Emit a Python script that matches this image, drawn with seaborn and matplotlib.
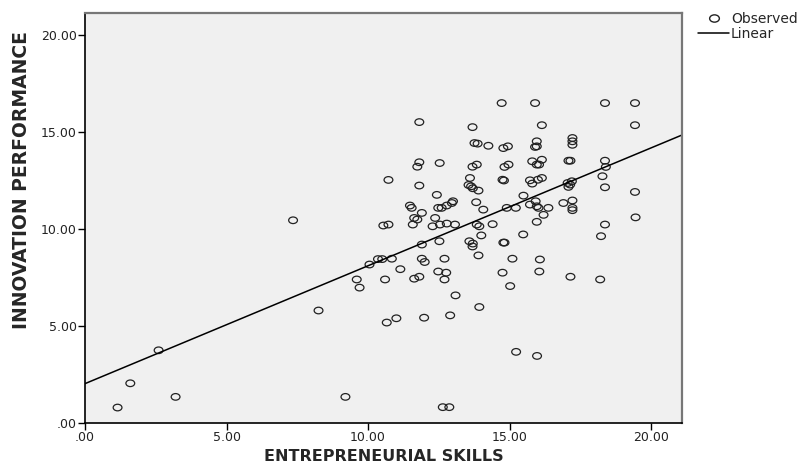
import matplotlib
matplotlib.use('Agg')
import matplotlib.pyplot as plt
import seaborn as sns
import pandas as pd
from matplotlib.ticker import FuncFormatter
from matplotlib.lines import Line2D
from matplotlib.path import Path
from matplotlib.transforms import Affine2D

# values
skills = [
    1.15, 1.6, 2.6, 3.2, 7.35, 8.25, 9.2, 9.6, 9.7, 10.05,
    10.35, 10.5, 10.84, 10.6, 11.14, 11.9, 11.9, 12.0, 11.63, 11.81,
    12.52, 12.7, 12.48, 12.76, 12.7, 13.09, 13.58, 13.7, 13.69, 14.0,
    13.9, 13.93, 10.66, 11.0, 11.98, 12.9, 14.78, 14.82, 14.75, 15.48,
    18.23, 15.1, 16.07, 16.05, 17.15, 18.2, 15.02, 15.23, 15.97, 12.64,
    12.87, 19.45, 18.37, 15.96, 16.2, 14.72, 11.81, 13.69, 13.76, 13.87,
    14.25, 14.78, 14.94, 11.81, 11.74, 12.53, 13.69, 13.84, 14.82, 14.96,
    10.72, 11.81, 13.6, 13.55, 13.64, 13.7, 13.9, 14.75, 14.8, 12.43,
    11.48, 11.54, 11.9, 11.63, 11.74, 12.48, 12.6, 12.78, 12.96, 13.0,
    13.82, 14.07, 12.37, 10.54, 10.72, 11.58, 12.28, 12.54, 12.78, 13.07,
    13.84, 13.93, 14.4, 14.9, 15.22, 15.9, 18.37, 19.43, 16.14, 19.43,
    15.96, 15.96, 15.9, 17.22, 17.22, 17.22, 15.8, 16.14, 15.96, 16.04,
    17.08, 17.15, 18.37, 18.4, 18.28, 18.37, 19.43, 15.72, 15.8, 16.0,
    16.14, 17.05, 17.14, 17.2, 17.08, 15.49, 15.72, 15.92, 15.96, 16.02,
    16.37, 16.9, 17.22, 17.22, 17.22,
]
innovation = [
    0.8, 2.05, 3.75, 1.35, 10.45, 5.8, 1.35, 7.4, 6.98, 8.17,
    8.45, 8.45, 8.47, 7.4, 7.93, 9.2, 8.47, 8.3, 7.44, 7.54,
    9.37, 8.47, 7.81, 7.75, 7.4, 6.58, 9.37, 9.25, 9.1, 9.67,
    8.64, 5.98, 5.18, 5.4, 5.43, 5.55, 9.3, 9.3, 7.75, 9.72,
    9.63, 8.47, 8.43, 7.81, 7.54, 7.4, 7.06, 3.67, 3.46, 0.82,
    0.82, 10.6, 10.23, 10.37, 10.73, 16.49, 15.51, 15.25, 14.43, 14.4,
    14.29, 14.17, 14.26, 13.44, 13.21, 13.4, 13.21, 13.32, 13.2, 13.32,
    12.53, 12.24, 12.63, 12.27, 12.2, 12.1, 11.98, 12.54, 12.5, 11.76,
    11.21, 11.09, 10.83, 10.57, 10.49, 11.09, 11.09, 11.21, 11.34, 11.43,
    11.38, 11.0, 10.57, 10.18, 10.23, 10.23, 10.14, 10.23, 10.28, 10.23,
    10.23, 10.14, 10.25, 11.09, 11.09, 16.49, 16.49, 16.49, 15.35, 15.35,
    14.52, 14.26, 14.23, 14.69, 14.52, 14.34, 13.49, 13.57, 13.32, 13.32,
    13.52, 13.52, 13.52, 13.2, 12.72, 12.15, 11.91, 12.51, 12.34, 12.54,
    12.63, 12.37, 12.29, 12.46, 12.17, 11.72, 11.26, 11.43, 11.17, 11.09,
    11.09, 11.34, 11.47, 11.09, 10.97,
]
x_ticks = [0, 5, 10, 15, 20]
y_ticks = [0, 5, 10, 15, 20]

df = pd.DataFrame({'skills': skills, 'innovation': innovation})

sns.set_style('white')
plt.rcParams['font.family'] = ['DejaVu Sans']

# the circles in the original are a bit wider than tall
ellipse = Path.unit_circle().transformed(Affine2D().scale(1.0, 0.75))

fig = plt.figure(figsize=(8.02, 4.68), dpi=100)
ax = fig.add_axes([0.106, 0.096, 0.744, 0.877])
ax.set_facecolor('#f0f0f0')
ax.set_xlim(0, 21.08)
ax.set_ylim(0, 21.15)

sns.scatterplot(data=df, x='skills', y='innovation', ax=ax, marker=ellipse,
                facecolor='none', edgecolor='#222222', s=40, linewidth=0.9)
sns.regplot(data=df, x='skills', y='innovation', ax=ax, scatter=False, ci=None,
            truncate=False, color='black', line_kws={'linewidth': 1.1})
ax.set_xlim(0, 21.08)
ax.set_ylim(0, 21.15)

fmt = FuncFormatter(lambda v, p: f'{v:.2f}'.lstrip('0') if v < 1 else f'{v:.2f}')
ax.set_xticks(x_ticks)
ax.set_yticks(y_ticks)
ax.xaxis.set_major_formatter(fmt)
ax.yaxis.set_major_formatter(fmt)
ax.tick_params(axis='both', direction='out', length=5, width=1, color='black',
               labelsize=9, labelcolor='#222222', pad=1)
ax.tick_params(axis='both', bottom=True, left=True)

for side in ['left', 'bottom']:
    ax.spines[side].set_color('black')
    ax.spines[side].set_linewidth(1.2)
for side in ['top', 'right']:
    ax.spines[side].set_color('#777777')
    ax.spines[side].set_linewidth(1.6)

ax.set_xlabel('ENTREPRENEURIAL SKILLS', fontsize=11.5, fontweight='bold')
ax.set_ylabel('INNOVATION PERFORMANCE', fontsize=13.5, fontweight='bold')
ax.xaxis.set_label_coords(0.5, -0.062)
ax.yaxis.set_label_coords(-0.09, 0.592)

handles = [
    Line2D([], [], linestyle='none', marker=ellipse, markerfacecolor='none',
           markeredgecolor='#222222', markersize=7),
    Line2D([], [], color='black', linewidth=1.1),
]
fig.legend(handles, ['Observed', 'Linear'], loc='upper left',
           bbox_to_anchor=(0.862, 0.99), frameon=False, fontsize=10,
           handlelength=2.2, handletextpad=0.15, labelspacing=0.1, borderpad=0)

fig.savefig('out.png', dpi=100)
